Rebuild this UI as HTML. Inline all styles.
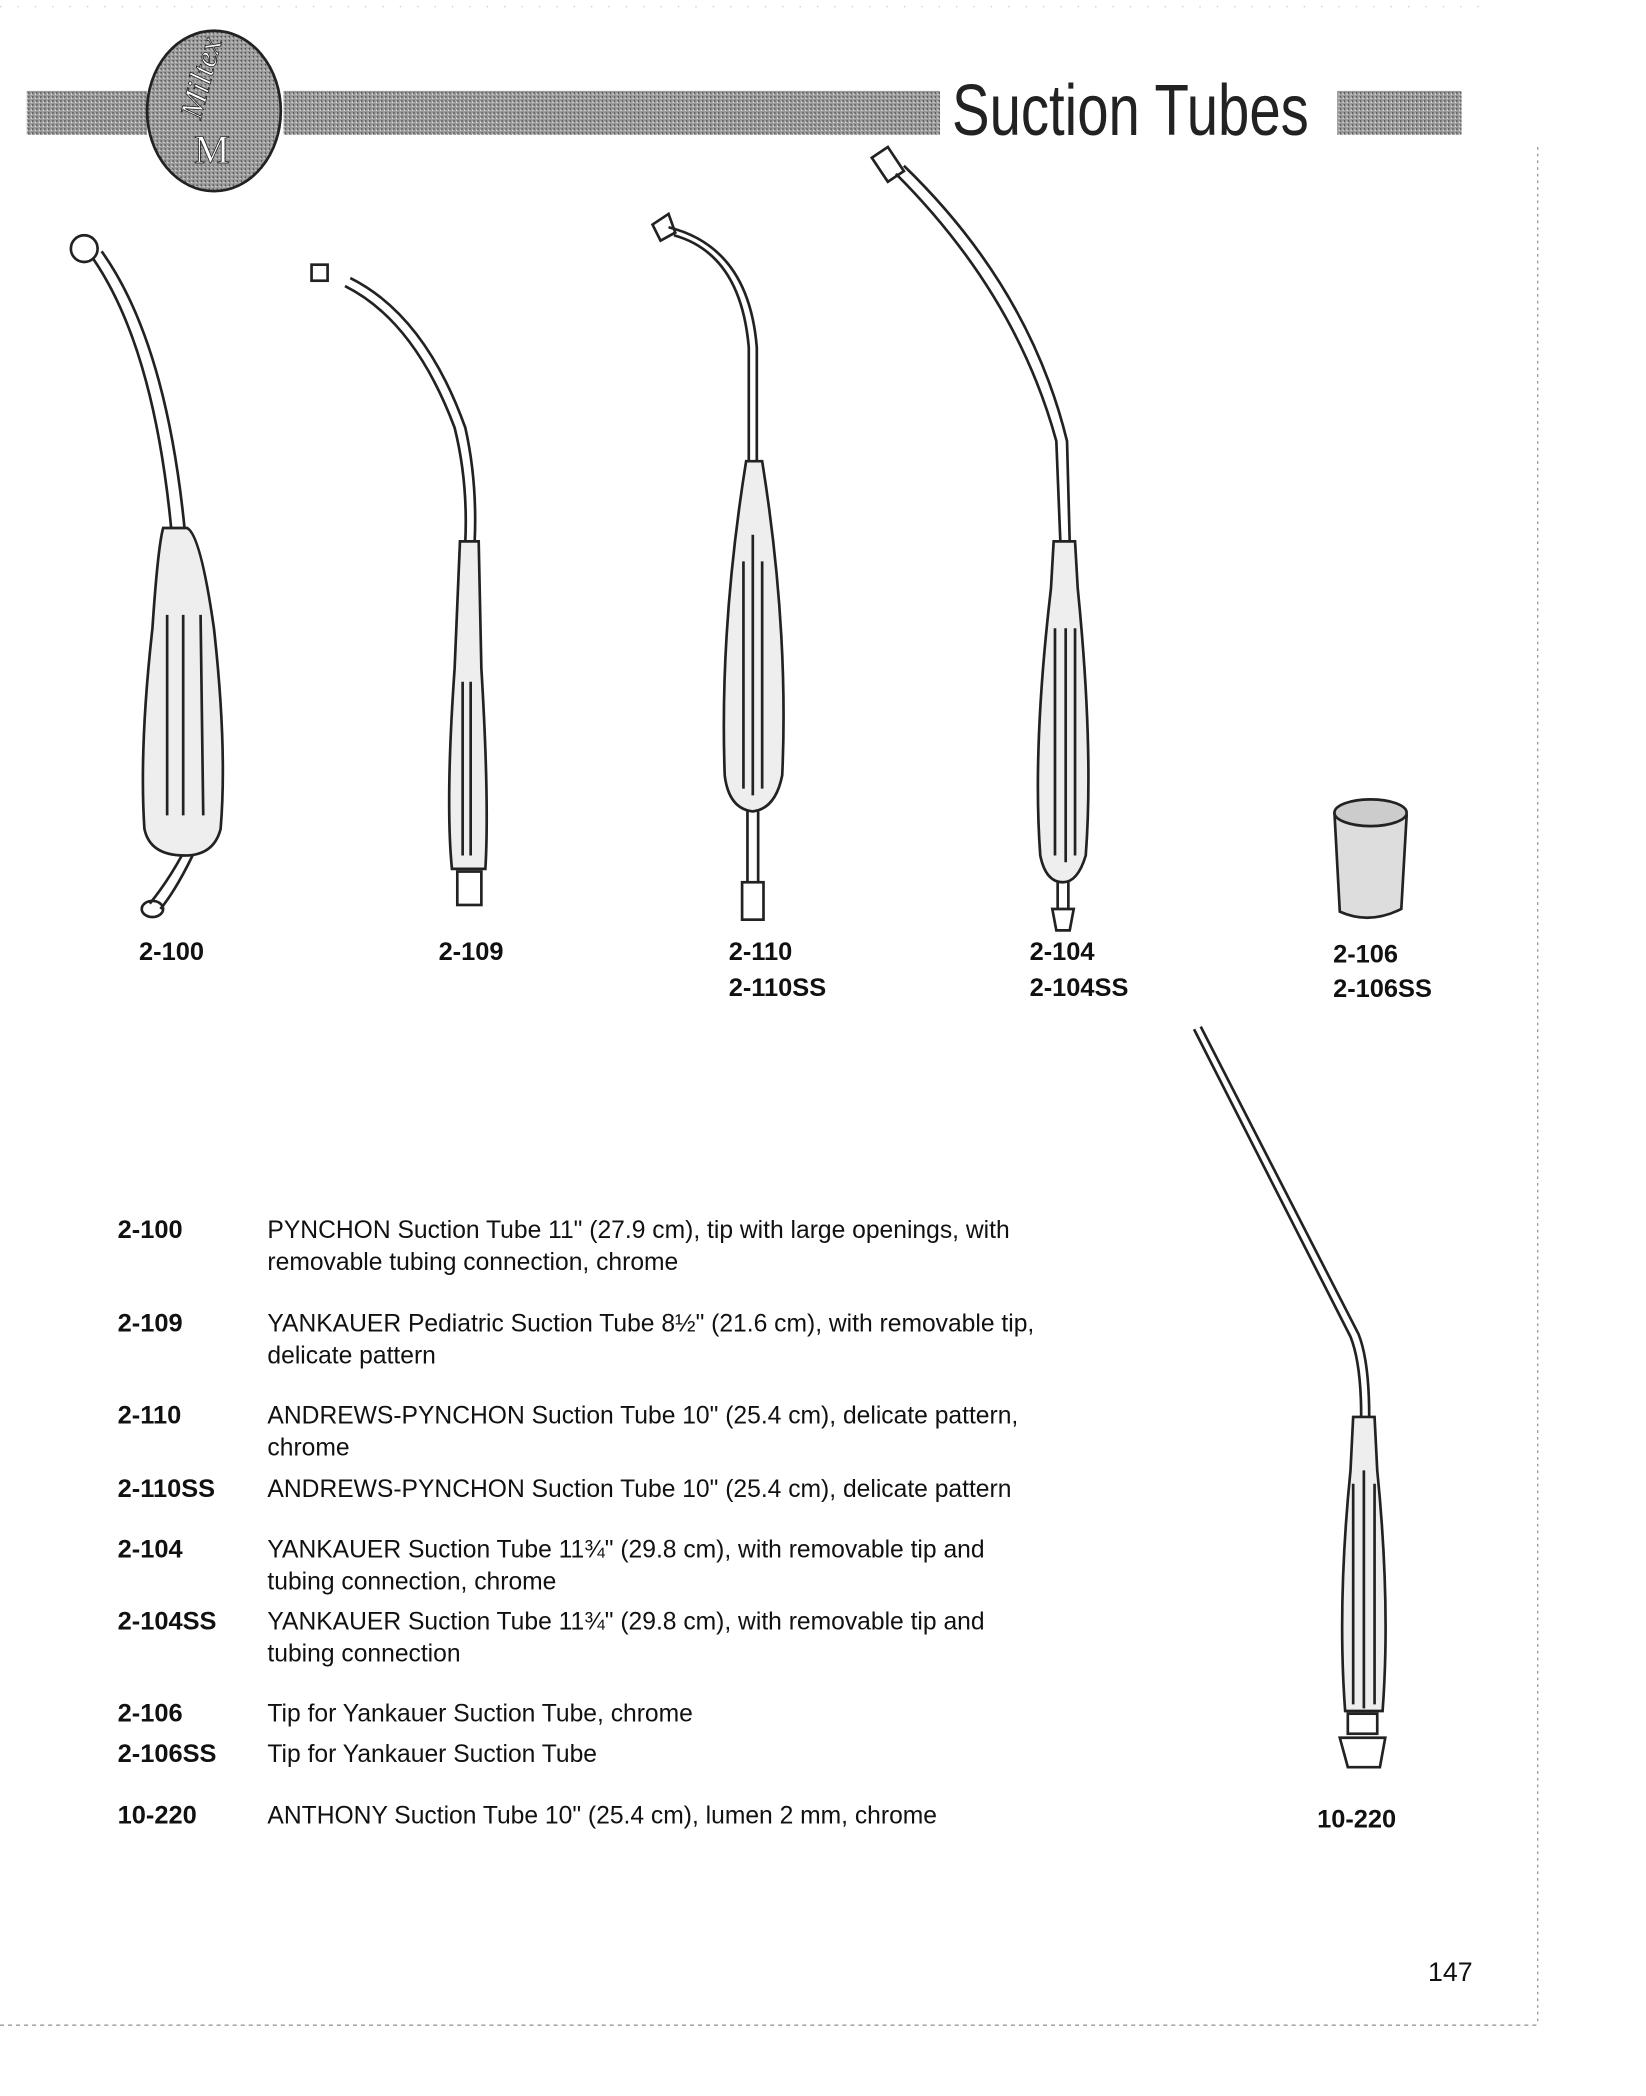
<!DOCTYPE html>
<html><head><meta charset="utf-8"><style>
html,body{margin:0;padding:0;background:#fff}
svg{display:block}
text{font-family:"Liberation Sans",sans-serif;fill:#111}
.c{font-weight:bold;font-size:19px}
.d{font-size:19px}
</style></head><body>
<svg width="1646" height="2096" viewBox="0 0 1231 1568" preserveAspectRatio="none" xmlns="http://www.w3.org/2000/svg">
<defs>
<pattern id="g" width="3" height="3" patternUnits="userSpaceOnUse"><rect width="3" height="3" fill="#9a9a9a"/><rect width="1" height="1" fill="#444"/><rect x="2" y="1" width="1" height="1" fill="#ddd"/></pattern>
</defs>
<rect x="20" y="68" width="90" height="33" fill="url(#g)"/>
<rect x="212" y="68" width="491" height="33" fill="url(#g)"/>
<rect x="1000" y="68" width="93" height="33" fill="url(#g)"/>
<ellipse cx="160" cy="83" rx="50" ry="60" fill="url(#g)" stroke="#222" stroke-width="2"/>
<text x="0" y="0" font-size="24" font-style="italic" transform="translate(150 90) rotate(-75)" style="font-family:'Liberation Serif',serif;fill:#fff;stroke:#222;stroke-width:.6">Miltex</text>
<text x="145" y="122" font-size="30" style="font-family:'Liberation Serif',serif;fill:#fff;stroke:#222;stroke-width:.6">M</text>
<text x="712" y="101" font-size="54" transform="translate(712 0) scale(0.78 1) translate(-712 0)" style="fill:#222">Suction Tubes</text>
<line x1="1150" y1="110" x2="1150" y2="1515" stroke="#999" stroke-dasharray="2 3"/>
<line x1="0" y1="1515" x2="1150" y2="1515" stroke="#999" stroke-dasharray="3 3"/>
<line x1="0" y1="5" x2="1110" y2="5" stroke="#ccc" stroke-dasharray="1 12"/>
<g fill="none" stroke="#222" stroke-width="2">
<circle cx="63" cy="186" r="10"/>
<path d="M70 194 Q115 260 128 395 M76 188 Q124 255 138 395"/>
<path d="M122 395 L140 395 Q150 400 160 470 Q170 560 165 620 Q160 640 138 640 Q112 640 108 620 Q104 560 114 470 Q118 410 122 395Z" fill="#eee"/>
<path d="M125 460 L125 610 M137 460 L137 610 M150 460 L152 610"/>
<path d="M136 640 Q125 660 112 676 M144 640 Q132 665 120 680"/>
<ellipse cx="114" cy="680" rx="8" ry="6"/>
<rect x="233" y="198" width="12" height="12"/>
<path d="M258 214 Q310 240 340 320 Q350 360 348 405 M262 208 Q318 236 348 320 Q357 360 355 405"/>
<path d="M344 405 L358 405 L360 500 Q366 600 363 650 L338 650 Q333 600 340 500Z" fill="#eee"/>
<path d="M346 510 L346 640 M352 510 L352 640"/>
<rect x="342" y="652" width="18" height="25"/>
<path d="M488 168 L500 160 L505 174 L494 180Z"/>
<path d="M500 170 Q560 185 566 260 L566 345 M504 176 Q554 190 560 260 L560 345"/>
<path d="M558 345 L570 345 Q590 470 585 580 Q580 605 563 607 Q545 605 542 580 Q538 470 558 345Z" fill="#eee"/>
<path d="M556 420 L556 590 M563 400 L563 595 M570 420 L570 590"/>
<path d="M559 607 L559 660 M567 607 L567 660"/>
<rect x="555" y="660" width="16" height="28"/>
<path d="M652 118 L664 110 L676 128 L664 136Z"/>
<path d="M670 130 Q760 220 790 330 L793 405 M676 124 Q770 215 798 330 L800 405"/>
<path d="M788 405 L804 405 L806 440 Q818 560 812 640 Q806 660 795 660 Q782 660 778 640 Q772 560 786 440Z" fill="#eee"/>
<path d="M789 470 L789 640 M797 470 L797 645 M804 470 L804 640"/>
<path d="M791 660 L791 680 M799 660 L799 680"/>
<path d="M787 680 L803 680 L800 696 L790 696Z"/>
<path d="M998 608 Q1020 596 1052 610 L1048 680 Q1024 692 1002 682Z" fill="#ddd"/>
<ellipse cx="1025" cy="608" rx="27" ry="10" fill="#ccc"/>
<path d="M893 770 L1010 1000 Q1018 1020 1018 1060 M898 768 L1016 998 Q1024 1018 1024 1060"/>
<path d="M1012 1060 L1028 1060 L1030 1100 Q1040 1200 1034 1280 L1006 1280 Q1000 1200 1010 1100Z" fill="#eee"/>
<path d="M1012 1110 L1012 1275 M1020 1100 L1020 1278 M1028 1110 L1028 1275"/>
<rect x="1008" y="1282" width="22" height="15"/>
<path d="M1002 1300 L1036 1300 L1032 1322 L1008 1322Z"/>
</g>
<g>
<text class="c" x="104" y="718">2-100</text>
<text class="c" x="328" y="718">2-109</text>
<text class="c" x="545" y="718">2-110</text>
<text class="c" x="545" y="745">2-110SS</text>
<text class="c" x="770" y="718">2-104</text>
<text class="c" x="770" y="745">2-104SS</text>
<text class="c" x="997" y="720">2-106</text>
<text class="c" x="997" y="746">2-106SS</text>
<text class="c" x="985" y="1367">10-220</text>
</g>
<g>
<text class="c" x="88" y="926">2-100</text>
<text class="c" x="88" y="996">2-109</text>
<text class="c" x="88" y="1065">2-110</text>
<text class="c" x="88" y="1120">2-110SS</text>
<text class="c" x="88" y="1165">2-104</text>
<text class="c" x="88" y="1219">2-104SS</text>
<text class="c" x="88" y="1288">2-106</text>
<text class="c" x="88" y="1318">2-106SS</text>
<text class="c" x="88" y="1364">10-220</text>
</g>
<g transform="translate(200 0) scale(0.97 1)">
<text class="d" x="0" y="926">PYNCHON Suction Tube 11" (27.9 cm), tip with large openings, with</text>
<text class="d" x="0" y="950">removable tubing connection, chrome</text>
<text class="d" x="0" y="996">YANKAUER Pediatric Suction Tube 8½" (21.6 cm), with removable tip,</text>
<text class="d" x="0" y="1020">delicate pattern</text>
<text class="d" x="0" y="1065">ANDREWS-PYNCHON Suction Tube 10" (25.4 cm), delicate pattern,</text>
<text class="d" x="0" y="1089">chrome</text>
<text class="d" x="0" y="1120">ANDREWS-PYNCHON Suction Tube 10" (25.4 cm), delicate pattern</text>
<text class="d" x="0" y="1165">YANKAUER Suction Tube 11¾" (29.8 cm), with removable tip and</text>
<text class="d" x="0" y="1189">tubing connection, chrome</text>
<text class="d" x="0" y="1219">YANKAUER Suction Tube 11¾" (29.8 cm), with removable tip and</text>
<text class="d" x="0" y="1243">tubing connection</text>
<text class="d" x="0" y="1288">Tip for Yankauer Suction Tube, chrome</text>
<text class="d" x="0" y="1318">Tip for Yankauer Suction Tube</text>
<text class="d" x="0" y="1364">ANTHONY Suction Tube 10" (25.4 cm), lumen 2 mm, chrome</text>
</g>
<text x="1068" y="1482" font-size="20">147</text>
</svg>
</body></html>
